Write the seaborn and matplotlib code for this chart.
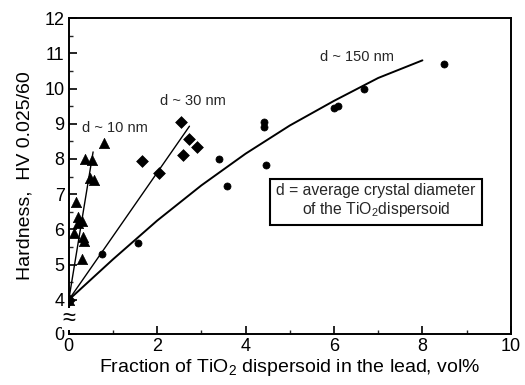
import matplotlib
matplotlib.use("Agg")
import matplotlib.pyplot as plt
import seaborn as sns
import pandas as pd
import numpy as np
from matplotlib.ticker import FixedLocator

# ---- data ----
tri_x = [0, 0.11, 0.16, 0.20, 0.20, 0.30, 0.30, 0.32, 0.34, 0.36, 0.48, 0.52, 0.57, 0.80]
tri_y = [4, 5.91, 6.79, 6.36, 6.17, 6.25, 5.17, 5.79, 5.68, 7.99, 7.45, 7.96, 7.39, 8.44]

dia_x = [0, 1.65, 2.03, 2.55, 2.59, 2.73, 2.91]
dia_y = [4, 7.94, 7.59, 9.04, 8.10, 8.58, 8.33]

cir_x = [0, 0.75, 1.57, 3.40, 3.59, 4.41, 4.41, 4.47, 6.00, 6.09, 6.68, 8.48]
cir_y = [4, 5.30, 5.62, 8.00, 7.22, 9.04, 8.90, 7.82, 9.44, 9.50, 10.0, 10.69]

l10_x = [0, 0.55]
l10_y = [4, 8.2]
l30_x = [0, 2.73]
l30_y = [4, 8.93]
l150_x = [0, 1, 2, 3, 4, 5, 6, 7, 8]
l150_y = [4, 5.15, 6.25, 7.25, 8.15, 8.95, 9.65, 10.3, 10.8]

x_ticks = [0, 2, 4, 6, 8, 10]
y_ticks = [4, 5, 6, 7, 8, 9, 10, 11, 12]
ZERO_POS = 3.03  # position used to show the broken-axis "0"

sns.set_theme(style="white")
plt.rcParams['font.family'] = ['Liberation Sans', 'DejaVu Sans']
plt.rcParams['mathtext.fontset'] = 'custom'
plt.rcParams['mathtext.rm'] = 'Liberation Sans'
plt.rcParams['mathtext.it'] = 'Liberation Sans'

fig = plt.figure(figsize=(5.25, 3.85), dpi=100)
ax = fig.add_axes([0.131, 0.1325, 0.842, 0.8205])

def line(xs, ys, lw):
    df = pd.DataFrame({"x": xs, "y": ys})
    sns.lineplot(data=df, x="x", y="y", ax=ax, color="black", lw=lw,
                 sort=False, estimator=None)

line(l10_x, l10_y, 1.0)
line(l30_x, l30_y, 1.0)
line(l150_x, l150_y, 1.4)

sns.scatterplot(x=tri_x, y=tri_y, ax=ax, marker="^", s=55, color="black",
                edgecolor="black", linewidth=0.5, zorder=3)
sns.scatterplot(x=dia_x, y=dia_y, ax=ax, marker="D", s=36, color="black",
                edgecolor="black", linewidth=0.5, zorder=3)
sns.scatterplot(x=cir_x, y=cir_y, ax=ax, marker="o", s=26, color="black",
                edgecolor="black", linewidth=0.5, zorder=3)

ax.set_xlim(0, 10)
ax.set_ylim(ZERO_POS, 12)
ax.set_xticks(x_ticks)
ax.set_xticklabels([str(v) for v in x_ticks])
ax.set_yticks([ZERO_POS] + y_ticks)
ax.set_yticklabels(["0"] + [str(v) for v in y_ticks])
ax.xaxis.set_minor_locator(FixedLocator([1, 3, 5, 7, 9]))
ax.yaxis.set_minor_locator(FixedLocator([4.5 + i for i in range(8)]))
ax.tick_params(which="major", direction="in", length=6, width=1.2,
               labelsize=13, colors="black", pad=3, left=True, bottom=True)
ax.tick_params(which="minor", direction="in", length=3, width=1.0,
               left=True, bottom=True)
for s in ax.spines.values():
    s.set_color("black")
    s.set_linewidth(1.4)

ax.set_xlabel(r"Fraction of TiO$_2$ dispersoid in the lead, vol%", fontsize=14,
              color="black", labelpad=1)
ax.set_ylabel("Hardness,  HV 0.025/60", fontsize=14, color="black", labelpad=8)

# axis break symbol
ax.text(0, 3.45, "\u2248", transform=ax.transData, ha="center", va="center",
        fontsize=17, color="black", clip_on=False,
        bbox=dict(facecolor="white", edgecolor="none", pad=0.0), zorder=5)

ax.text(0.30, 8.88, "d ~ 10 nm", fontsize=10.5, ha="left", va="center")
ax.text(2.07, 9.65, "d ~ 30 nm", fontsize=10.5, ha="left", va="center")
ax.text(5.68, 10.9, "d ~ 150 nm", fontsize=10.5, ha="left", va="center")

ax.text(6.95, 6.81, "d = average crystal diameter\n" + r"of the TiO$_2$dispersoid",
        fontsize=11.3, ha="center", va="center", multialignment="center",
        linespacing=1.1,
        bbox=dict(facecolor="white", edgecolor="black", linewidth=1.5,
                  boxstyle="square,pad=0.4"))

fig.savefig("out.png", dpi=100)
